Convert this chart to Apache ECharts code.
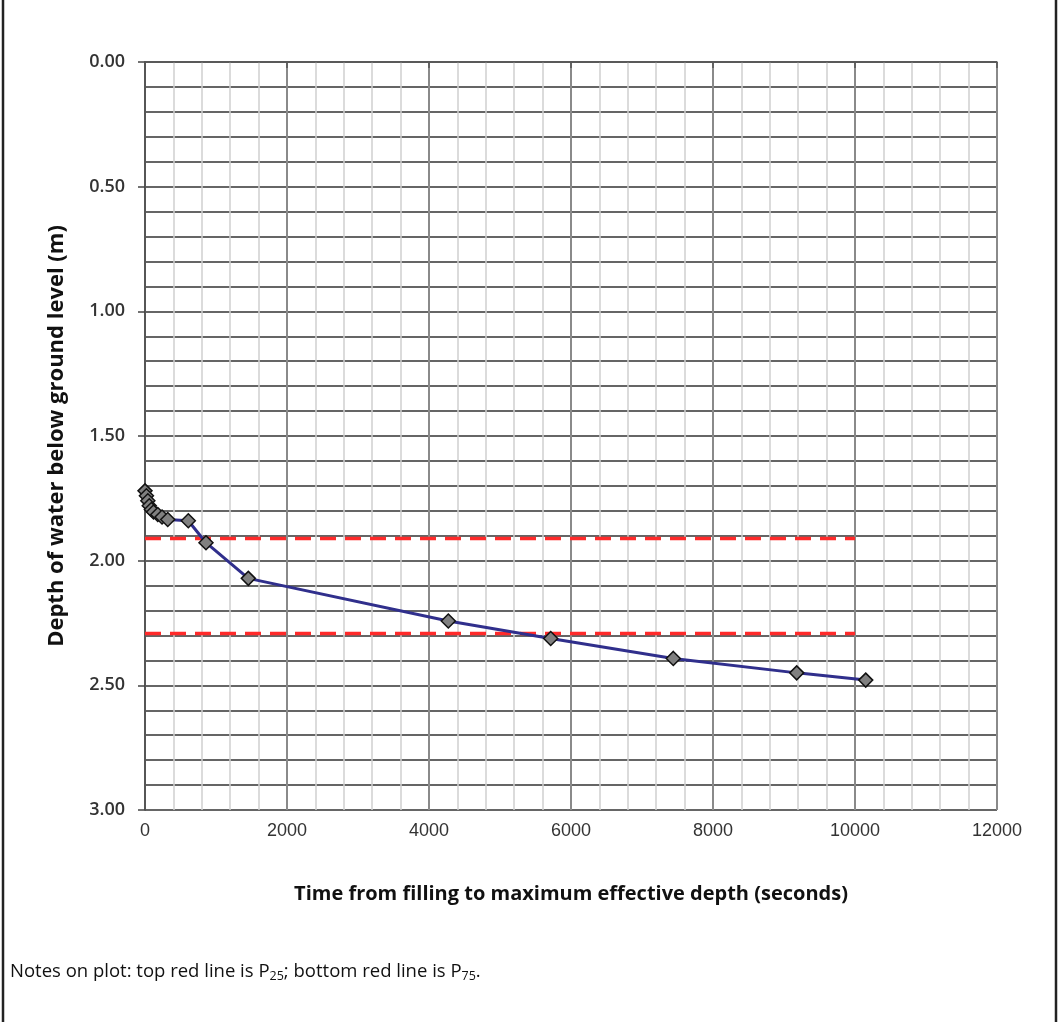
<!DOCTYPE html>
<html>
<head>
<meta charset="utf-8">
<script src="https://cdn.jsdelivr.net/npm/echarts@6/dist/echarts.min.js"></script>
<style>
html,body{margin:0;padding:0;background:#fff;}
#chart{width:1061px;height:1022px;}
</style>
</head>
<body>
<div id="chart"></div>
<script>
const timeSec = [0, 20, 40, 60, 90, 120, 180, 240, 320, 610, 859, 1455, 4272, 5714, 7441, 9179, 10151];
const depthM  = [1.72, 1.74, 1.76, 1.78, 1.795, 1.805, 1.815, 1.825, 1.835, 1.84, 1.928, 2.071, 2.242, 2.312, 2.392, 2.450, 2.479];
const p25 = 1.911;
const p75 = 2.292;
const refLineX = [0, 10000];
const xTicks = [0, 2000, 4000, 6000, 8000, 10000, 12000];
const yTicks = [0, 0.5, 1.0, 1.5, 2.0, 2.5, 3.0];

const chart = echarts.init(document.getElementById('chart'), null, {renderer: 'canvas'});
const mainData = timeSec.map((t, i) => [t, depthM[i]]);
const redStyle = {color: '#ff2a2a', width: 3.5, type: [16, 9]};

chart.setOption({
  animation: false,
  backgroundColor: '#fff',
  grid: {left: 145, right: 64, top: 62, bottom: 212, containLabel: false},
  xAxis: {
    type: 'value', min: xTicks[0], max: xTicks[xTicks.length - 1], interval: 2000,
    name: 'Time from filling to maximum effective depth (seconds)',
    nameLocation: 'middle', nameGap: 74,
    nameTextStyle: {fontFamily: 'Open Sans', fontWeight: 'bold', fontSize: 20, color: '#111'},
    axisLine: {show: true, lineStyle: {color: '#555', width: 1.5}},
    axisTick: {show: true, length: 6, lineStyle: {color: '#555', width: 1.5}},
    axisLabel: {margin: 12, fontFamily: 'Liberation Sans', fontSize: 18, color: '#333',
      formatter: v => String(v)},
    splitLine: {show: true, lineStyle: {color: '#8a8a8a', width: 2}},
    minorTick: {show: false, splitNumber: 5},
    minorSplitLine: {show: true, lineStyle: {color: '#cfcfcf', width: 1.5}}
  },
  yAxis: {
    type: 'value', inverse: true, min: yTicks[0], max: yTicks[yTicks.length - 1], interval: 0.5,
    name: 'Depth of water below ground level (m)',
    nameLocation: 'middle', nameGap: 77, nameRotate: 90,
    nameTextStyle: {fontFamily: 'Open Sans', fontWeight: 'bold', fontSize: 22, color: '#111'},
    axisLine: {show: true, lineStyle: {color: '#444', width: 1.5}},
    axisTick: {show: true, length: 7, lineStyle: {color: '#444', width: 1.5}},
    axisLabel: {margin: 20, fontFamily: 'Open Sans', fontWeight: 600, fontSize: 18, color: '#333',
      formatter: v => v.toFixed(2)},
    splitLine: {show: true, lineStyle: {color: '#333', width: 1.5}},
    minorTick: {show: false, splitNumber: 5},
    minorSplitLine: {show: true, lineStyle: {color: '#333', width: 1.5}}
  },
  series: [
    {
      type: 'line', data: [[refLineX[0], p25], [refLineX[1], p25]],
      symbol: 'none', lineStyle: redStyle, z: 3
    },
    {
      type: 'line', data: [[refLineX[0], p75], [refLineX[1], p75]],
      symbol: 'none', lineStyle: redStyle, z: 3
    },
    {
      type: 'line', data: mainData,
      symbol: 'diamond', symbolSize: 14,
      lineStyle: {color: '#302f8c', width: 3},
      itemStyle: {color: '#808080', borderColor: '#111', borderWidth: 1.5},
      z: 4
    }
  ],
  graphic: [
    {type: 'rect', shape: {x: 3, y: -5, width: 1053, height: 1040}, style: {fill: 'none', stroke: '#222', lineWidth: 2.5}, silent: true},
    {type: 'text', left: 10, top: 962, style: {
      text: 'Notes on plot: top red line is P{s|25}; bottom red line is P{s|75}.',
      fontFamily: 'Open Sans', fontSize: 18.5, fill: '#111',
      rich: {s: {fontFamily: 'Open Sans', fontSize: 12.5, fill: '#111', verticalAlign: 'bottom', padding: [10, 0, 0, 0]}}
    }}
  ]
});
</script>
</body>
</html>
